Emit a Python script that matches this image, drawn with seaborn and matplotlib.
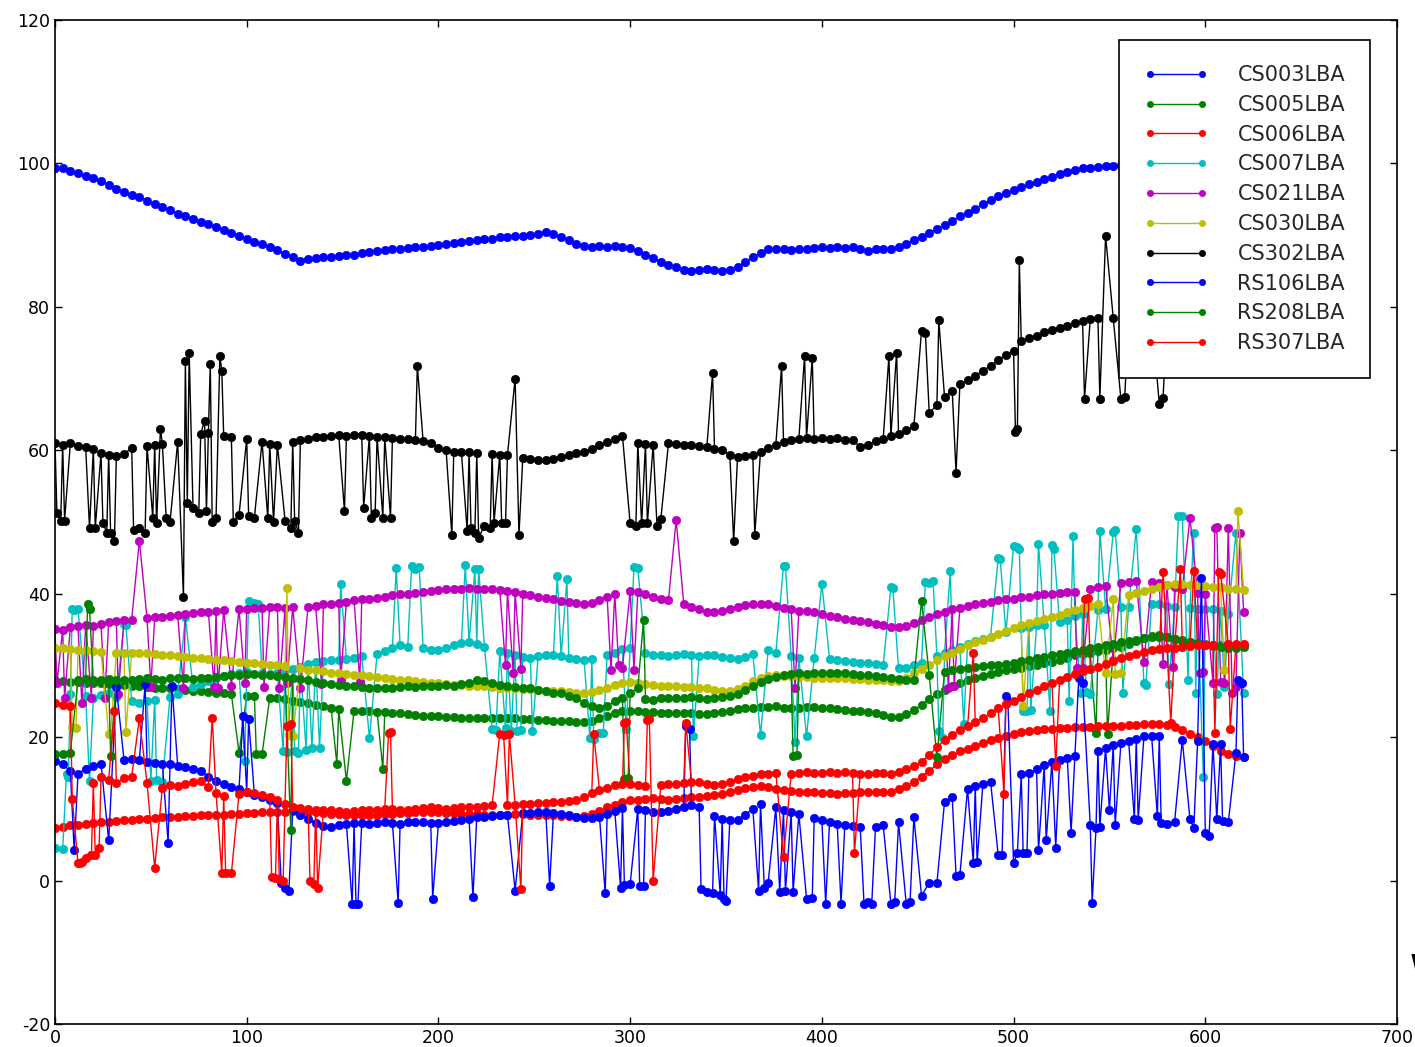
import numpy as np
import pandas as pd
import matplotlib
matplotlib.use('Agg')
import matplotlib.pyplot as plt
import seaborn as sns

STEP = 4

stations = ['CS003LBA', 'CS005LBA', 'CS006LBA', 'CS007LBA', 'CS021LBA',
            'CS030LBA', 'CS302LBA', 'RS106LBA', 'RS208LBA', 'RS307LBA']

cs003 = [
    99.3, 99.4, 99.0, 98.6, 98.3, 98.0, 97.6, 97.0, 96.5, 96.0,
    95.6, 95.3, 94.8, 94.3, 93.9, 93.5, 93.0, 92.6, 92.3, 91.9,
    91.5, 91.1, 90.7, 90.3, 89.9, 89.5, 89.1, 88.8, 88.4, 87.9,
    87.4, 86.9, 86.4, 86.7, 86.8, 86.9, 87.0, 87.1, 87.2, 87.3,
    87.5, 87.7, 87.8, 87.9, 88.0, 88.1, 88.2, 88.3, 88.4, 88.5,
    88.6, 88.7, 88.9, 89.1, 89.2, 89.3, 89.4, 89.5, 89.7, 89.8,
    89.9, 89.9, 90.0, 90.2, 90.4, 90.1, 89.7, 89.3, 88.8, 88.5,
    88.4, 88.5, 88.4, 88.5, 88.4, 88.2, 87.8, 87.3, 86.8, 86.3,
    85.9, 85.6, 85.2, 85.0, 85.2, 85.3, 85.1, 85.0, 85.2, 85.6,
    86.2, 86.9, 87.5, 88.0, 88.1, 88.0, 87.9, 88.0, 88.1, 88.2,
    88.3, 88.2, 88.3, 88.2, 88.3, 88.0, 87.8, 88.0, 88.1, 88.0,
    88.3, 88.8, 89.3, 89.8, 90.3, 90.9, 91.4, 92.0, 92.6, 93.1,
    93.7, 94.3, 94.9, 95.4, 95.9, 96.3, 96.7, 97.1, 97.4, 97.8,
    98.1, 98.5, 98.8, 99.1, 99.3, 99.4, 99.5, 99.6, 99.7, 99.8,
    99.9, 100.0, 100.1, 100.1, 100.2, 100.2, 100.3, 100.3, 100.4, 100.4,
    100.4, 100.5, 100.5, 100.5, 100.6, 100.6]
cs003_spikes = {}

cs005 = [
    27.9, 27.8, 27.7, 27.7, 27.6, 27.5, 27.5, 27.4, 27.3, 27.3,
    27.2, 27.1, 27.0, 26.9, 26.8, 26.8, 26.7, 26.6, 26.5, 26.4,
    26.3, 26.2, 26.1, 26.0, 25.9, 25.8, 25.7, 25.6, 25.5, 25.4,
    25.3, 25.1, 24.9, 24.7, 24.5, 24.3, 24.1, 23.9, 23.8, 23.7,
    23.6, 23.6, 23.5, 23.5, 23.4, 23.3, 23.2, 23.1, 23.0, 22.9,
    22.9, 22.8, 22.8, 22.7, 22.7, 22.7, 22.6, 22.6, 22.6, 22.6,
    22.6, 22.5, 22.5, 22.4, 22.4, 22.3, 22.3, 22.2, 22.1, 22.1,
    22.2, 22.6, 23.0, 23.4, 23.7, 23.7, 23.6, 23.5, 23.5, 23.4,
    23.4, 23.3, 23.3, 23.3, 23.2, 23.2, 23.3, 23.5, 23.7, 23.9,
    24.0, 24.1, 24.2, 24.2, 24.3, 24.1, 24.0, 24.1, 24.2, 24.2,
    24.1, 24.0, 23.9, 23.8, 23.7, 23.6, 23.5, 23.3, 23.1, 22.8,
    22.8, 23.2, 23.8, 24.5, 25.3, 26.0, 26.6, 27.1, 27.5, 27.9,
    28.2, 28.5, 28.8, 29.1, 29.3, 29.5, 29.7, 29.9, 30.1, 30.3,
    30.5, 30.8, 31.1, 31.4, 31.6, 31.8, 32.0, 32.2, 32.4, 32.6,
    33.0, 33.4, 33.8, 34.1, 34.2, 34.0, 33.7, 33.4, 33.2, 33.0,
    33.0, 32.9, 32.9, 32.8, 32.8, 32.8]
cs005_spikes = {96: 17.8, 105: 17.7, 108: 17.6, 147: 16.3, 152: 13.9,
                171: 15.6, 543: 20.6, 549: 20.5}

cs006 = [
    7.4, 7.5, 7.7, 7.8, 7.9, 8.0, 8.1, 8.2, 8.3, 8.4,
    8.5, 8.6, 8.6, 8.7, 8.8, 8.8, 8.9, 9.0, 9.0, 9.1,
    9.1, 9.2, 9.2, 9.3, 9.3, 9.4, 9.4, 9.5, 9.5, 9.6,
    9.6, 9.7, 9.7, 9.6, 9.5, 9.4, 9.3, 9.3, 9.2, 9.2,
    9.2, 9.1, 9.2, 9.3, 9.3, 9.4, 9.4, 9.5, 9.5, 9.6,
    9.5, 9.4, 9.4, 9.3, 9.3, 9.3, 9.2, 9.2, 9.2, 9.2,
    9.3, 9.3, 9.2, 9.2, 9.1, 9.1, 9.0, 9.0, 8.9, 9.0,
    9.3, 9.7, 10.2, 10.6, 10.9, 11.2, 11.3, 11.4, 11.5, 11.4,
    11.3, 11.4, 11.5, 11.6, 11.7, 11.8, 11.9, 12.1, 12.3, 12.6,
    12.9, 13.1, 13.2, 13.0, 12.8, 12.6, 12.5, 12.4, 12.3, 12.3,
    12.2, 12.2, 12.1, 12.2, 12.2, 12.3, 12.3, 12.3, 12.3, 12.4,
    12.8, 13.2, 13.8, 14.5, 15.3, 16.2, 16.9, 17.5, 18.0, 18.4,
    18.8, 19.2, 19.6, 19.9, 20.2, 20.5, 20.7, 20.9, 21.0, 21.1,
    21.2, 21.3, 21.3, 21.4, 21.4, 21.4, 21.5, 21.5, 21.6, 21.6,
    21.7, 21.7, 21.8, 21.8, 21.9, 21.7, 21.4, 21.0, 20.5, 20.0,
    19.4, 18.7, 18.1, 17.7, 17.4, 17.2]
cs006_spikes = {}

cs007 = [
    4.5, 4.4, 26.0, 26.2, 25.8, 25.5, 25.9, 26.1, 25.6, 25.8,
    25.0, 24.8, 25.0, 25.2, 25.3, 25.6, 26.0, 26.4, 27.0, 27.4,
    27.8, 28.2, 28.5, 28.8, 28.9, 29.1, 29.0, 29.0, 28.8, 28.9,
    29.2, 29.5, 29.8, 30.2, 30.5, 30.6, 30.7, 30.8, 30.9, 31.0,
    31.3, 31.5, 31.6, 32.0, 32.5, 32.8, 32.6, 32.5, 32.4, 32.2,
    32.1, 32.4, 32.8, 33.1, 33.2, 33.0, 32.6, 32.3, 32.0, 31.8,
    31.5, 31.2, 31.1, 31.3, 31.4, 31.5, 31.3, 31.1, 30.9, 30.7,
    30.9, 31.2, 31.5, 31.8, 32.3, 32.5, 32.2, 31.8, 31.5, 31.4,
    31.3, 31.5, 31.6, 31.4, 31.3, 31.5, 31.4, 31.2, 31.0, 30.9,
    31.2, 31.6, 32.0, 32.1, 31.8, 31.5, 31.3, 31.1, 31.0, 31.0,
    30.9, 30.9, 30.8, 30.6, 30.5, 30.4, 30.3, 30.2, 30.0, 29.8,
    29.6, 29.7, 30.0, 30.4, 30.8, 31.3, 31.8, 32.2, 32.6, 33.0,
    33.4, 33.7, 34.0, 34.3, 34.6, 34.9, 35.2, 35.4, 35.6, 35.7,
    35.8, 36.0, 36.4, 36.9, 37.2, 37.5, 37.7, 37.9, 38.0, 38.1,
    38.2, 38.4, 38.5, 38.6, 38.5, 38.3, 38.2, 38.1, 38.0, 37.9,
    37.9, 37.8, 37.6, 37.2, 36.8, 26.1]
cs007_spikes = {6: 14.9, 7: 14.5, 9: 37.9, 10: 37.7, 12: 37.8, 18: 13.9,
                36: 35.8, 37: 35.6, 50: 13.9, 53: 14.0, 56: 13.8, 68: 36.7,
                99: 16.7, 101: 39.0, 104: 38.7, 106: 38.6, 119: 18.1,
                121: 17.9, 125: 18.0, 127: 17.8, 131: 18.2, 134: 18.5,
                138: 18.5, 149: 41.4, 164: 19.9, 178: 43.6, 186: 43.9,
                188: 43.5, 190: 43.7, 214: 44.0, 219: 43.4, 221: 43.4,
                228: 21.2, 230: 21.0, 235: 21.3, 238: 20.9, 241: 20.9,
                243: 21.0, 249: 20.8, 262: 42.5, 267: 42.0, 279: 19.9,
                281: 19.8, 284: 20.6, 286: 20.6, 298: 21.2, 302: 43.7,
                304: 43.6, 333: 20.1, 368: 20.3, 380: 43.9, 381: 43.8,
                386: 19.3, 392: 20.1, 400: 41.4, 436: 40.9, 437: 40.8,
                454: 41.7, 456: 41.5, 458: 41.8, 461: 20.9, 463: 19.9,
                467: 43.2, 474: 21.9, 492: 45.0, 493: 44.9, 500: 46.7,
                502: 46.5, 503: 46.3, 505: 23.7, 507: 23.6, 509: 23.8,
                513: 46.9, 519: 23.7, 520: 46.8, 521: 46.3, 529: 25.1,
                531: 48.0, 535: 26.2, 538: 26.3, 540: 26.0, 545: 48.8,
                552: 48.6, 553: 48.9, 557: 26.2, 564: 49.0, 568: 27.5,
                569: 27.3, 581: 27.4, 586: 50.8, 588: 50.8, 591: 28.0,
                594: 48.5, 595: 26.2, 599: 14.4, 606: 26.0, 610: 27.0,
                616: 48.5}

cs021 = [
    35.1, 35.0, 35.3, 35.5, 35.6, 35.5, 35.8, 36.0, 36.2, 36.3,
    36.4, 36.5, 36.6, 36.7, 36.8, 36.9, 37.0, 37.2, 37.3, 37.4,
    37.5, 37.6, 37.7, 37.8, 37.9, 37.9, 38.0, 38.0, 38.1, 38.1,
    38.0, 38.1, 38.2, 38.2, 38.3, 38.5, 38.6, 38.7, 38.9, 39.1,
    39.2, 39.3, 39.4, 39.6, 39.8, 39.9, 40.0, 40.1, 40.2, 40.4,
    40.5, 40.6, 40.7, 40.7, 40.8, 40.7, 40.7, 40.6, 40.5, 40.4,
    40.2, 40.0, 39.8, 39.6, 39.4, 39.2, 39.0, 38.8, 38.7, 38.6,
    38.7, 39.1, 39.6, 40.0, 40.3, 40.4, 40.2, 39.9, 39.6, 39.3,
    39.1, 38.8, 38.5, 38.1, 37.8, 37.5, 37.4, 37.6, 37.9, 38.2,
    38.4, 38.6, 38.6, 38.5, 38.3, 38.0, 37.8, 37.6, 37.6, 37.5,
    37.2, 36.9, 36.7, 36.5, 36.3, 36.2, 36.0, 35.8, 35.6, 35.4,
    35.3, 35.5, 35.9, 36.3, 36.8, 37.2, 37.5, 37.8, 38.0, 38.3,
    38.5, 38.7, 38.9, 39.1, 39.2, 39.3, 39.5, 39.6, 39.8, 39.9,
    40.0, 40.1, 40.2, 40.3, 40.5, 40.6, 40.9, 41.1, 41.3, 41.5,
    41.6, 41.8, 41.8, 41.7, 41.5, 41.2, 40.9, 40.6, 40.3, 40.1,
    39.9, 39.7, 39.6, 39.5, 39.3, 37.4]
cs021_spikes = {1: 27.5, 5: 25.5, 14: 24.7, 19: 25.5, 26: 25.5, 33: 26.0,
                44: 47.4, 50: 27.0, 67: 26.8, 83: 27.0, 85: 26.8, 92: 27.2,
                99: 27.5, 109: 27.0, 117: 26.8, 121: 27.5, 128: 26.8,
                139: 27.4, 149: 27.9, 159: 27.7, 235: 30.0, 239: 29.0,
                243: 29.5, 290: 29.3, 294: 30.0, 296: 29.7, 302: 29.4,
                324: 50.3, 386: 26.9, 466: 26.9, 469: 27.2, 533: 29.6,
                536: 29.6, 552: 30.7, 568: 30.5, 578: 30.2, 583: 29.8,
                592: 50.6, 597: 29.0, 599: 29.1, 604: 27.6, 605: 49.2,
                606: 49.3, 608: 27.7, 610: 27.5, 612: 49.2, 614: 26.2,
                616: 27.0, 618: 48.4}

cs030 = [
    32.5, 32.4, 32.3, 32.2, 32.1, 32.0, 31.9, 31.9, 31.8, 31.8,
    31.8, 31.7, 31.7, 31.6, 31.5, 31.4, 31.3, 31.2, 31.1, 31.0,
    30.9, 30.8, 30.7, 30.6, 30.5, 30.4, 30.3, 30.2, 30.1, 30.0,
    29.9, 29.8, 29.6, 29.4, 29.3, 29.2, 29.0, 28.9, 28.8, 28.7,
    28.6, 28.5, 28.4, 28.3, 28.1, 28.0, 27.9, 27.8, 27.7, 27.6,
    27.5, 27.4, 27.3, 27.3, 27.2, 27.2, 27.1, 27.0, 26.9, 26.8,
    26.8, 26.7, 26.7, 26.6, 26.5, 26.5, 26.4, 26.3, 26.2, 26.2,
    26.3, 26.6, 26.9, 27.3, 27.6, 27.7, 27.6, 27.4, 27.3, 27.2,
    27.2, 27.1, 27.0, 27.0, 26.9, 26.8, 26.6, 26.5, 26.5, 26.7,
    27.2, 27.8, 28.3, 28.5, 28.6, 28.5, 28.5, 28.4, 28.4, 28.3,
    28.3, 28.3, 28.2, 28.2, 28.1, 28.1, 28.0, 28.0, 27.9, 27.8,
    27.8, 28.3, 28.9, 29.5, 30.1, 30.7, 31.3, 31.8, 32.3, 32.8,
    33.2, 33.6, 34.0, 34.4, 34.8, 35.2, 35.6, 35.9, 36.2, 36.5,
    36.8, 37.1, 37.4, 37.7, 38.0, 38.3, 38.6, 38.9, 39.2, 39.5,
    39.8, 40.1, 40.4, 40.7, 41.0, 41.2, 41.3, 41.3, 41.2, 41.2,
    41.1, 41.0, 40.9, 40.7, 40.6, 40.5]
cs030_spikes = {9: 21.4, 11: 21.3, 28: 20.5, 29: 20.6, 37: 20.7, 121: 40.8,
                122: 20.3, 124: 20.2, 505: 24.4, 548: 28.9, 553: 28.8,
                556: 29.0, 610: 29.3, 617: 51.6}

cs302 = [
    61.0, 60.8, 61.0, 60.6, 60.4, 60.2, 59.6, 59.4, 59.2, 59.5,
    60.3, 60.4, 60.6, 60.8, 60.9, 60.8, 61.2, 61.5, 62.0, 62.3,
    62.4, 62.2, 62.0, 61.8, 61.9, 61.6, 61.4, 61.2, 60.9, 60.8,
    61.0, 61.2, 61.5, 61.6, 61.8, 61.9, 62.0, 62.1, 62.0, 62.2,
    62.1, 62.0, 61.9, 61.8, 61.7, 61.6, 61.6, 61.5, 61.3, 61.0,
    60.3, 60.0, 59.8, 59.7, 59.8, 59.6, 59.6, 59.5, 59.4, 59.3,
    59.1, 58.9, 58.8, 58.7, 58.6, 58.8, 59.0, 59.3, 59.6, 59.8,
    60.2, 60.7, 61.2, 61.6, 62.0, 61.5, 61.0, 60.9, 60.8, 60.9,
    61.0, 60.9, 60.8, 60.7, 60.6, 60.4, 60.2, 60.0, 59.4, 59.0,
    59.2, 59.4, 59.8, 60.3, 60.8, 61.2, 61.5, 61.6, 61.7, 61.6,
    61.7, 61.6, 61.7, 61.5, 61.4, 60.5, 60.8, 61.3, 61.6, 62.0,
    62.3, 62.8, 63.4, 64.2, 65.2, 66.3, 67.4, 68.3, 69.2, 69.8,
    70.4, 71.1, 71.8, 72.6, 73.3, 73.9, 75.2, 75.6, 76.0, 76.5,
    76.8, 77.1, 77.4, 77.8, 78.0, 78.3, 78.4, 78.5, 78.4, 78.5,
    78.6, 78.7, 78.8, 78.9, 79.0, 79.1, 79.2, 79.3, 79.3, 79.4,
    79.4, 79.5, 79.5, 79.6, 79.6, 79.7]
cs302_spikes = {1: 51.3, 3: 50.2, 5: 50.2, 18: 49.2, 21: 49.2, 25: 49.9,
                27: 48.5, 29: 48.5, 31: 47.4, 41: 48.9, 44: 49.2, 47: 48.5,
                51: 50.6, 53: 49.8, 55: 63.0, 58: 50.5, 60: 50.0, 67: 39.5,
                68: 72.5, 69: 52.6, 70: 73.5, 72: 51.9, 75: 51.3, 78: 64.1,
                79: 51.5, 81: 72.1, 82: 50.0, 84: 50.6, 86: 73.2, 87: 71.1,
                93: 50.0, 96: 51.0, 101: 50.9, 104: 50.6, 111: 50.5,
                114: 50.0, 120: 50.2, 123: 49.2, 125: 50.2, 127: 48.5,
                151: 51.5, 161: 52.0, 165: 50.6, 167: 51.3, 171: 50.6,
                175: 50.6, 189: 71.8, 207: 48.2, 215: 48.7, 217: 49.2,
                219: 48.5, 221: 47.8, 224: 49.5, 227: 49.2, 229: 49.9,
                233: 49.8, 235: 49.8, 240: 70.0, 242: 48.2, 300: 49.8,
                303: 49.5, 306: 49.8, 309: 49.8, 314: 49.5, 316: 50.4,
                343: 70.8, 354: 47.3, 365: 48.2, 379: 71.7, 391: 73.2,
                395: 72.9, 435: 73.2, 439: 73.6, 452: 76.7, 454: 76.4,
                461: 78.1, 470: 56.9, 501: 62.5, 502: 63.0, 503: 86.5,
                537: 67.2, 545: 67.2, 548: 89.9, 556: 67.1, 558: 67.5,
                576: 66.5, 578: 67.3}

rs106 = [
    16.7, 16.2, 15.3, 14.9, 15.6, 16.0, 16.3, 16.5, 16.6, 16.8,
    17.0, 16.8, 16.6, 16.4, 16.3, 16.2, 16.0, 15.9, 15.6, 15.3,
    14.5, 13.9, 13.5, 13.1, 12.7, 12.3, 12.0, 11.6, 11.2, 10.8,
    10.3, 9.8, 9.2, 8.6, 8.0, 7.6, 7.5, 7.7, 7.9, 8.0,
    8.0, 7.9, 8.0, 8.1, 8.0, 7.9, 8.1, 8.2, 8.1, 8.0,
    8.0, 8.1, 8.3, 8.5, 8.6, 8.8, 8.9, 9.0, 9.1, 9.2,
    9.3, 9.4, 9.4, 9.5, 9.5, 9.4, 9.3, 9.1, 8.9, 8.7,
    8.7, 8.9, 9.3, 9.7, 10.1, 10.2, 10.0, 9.8, 9.6, 9.6,
    9.7, 10.0, 10.3, 10.5, 10.2, 9.6, 9.0, 8.6, 8.4, 8.5,
    9.2, 10.0, 10.7, 10.6, 10.2, 9.8, 9.5, 9.3, 9.0, 8.7,
    8.4, 8.1, 7.9, 7.8, 7.6, 7.5, 7.4, 7.5, 7.7, 7.9,
    8.1, 8.4, 8.8, 9.2, 9.7, 10.3, 11.0, 11.6, 12.3, 12.8,
    13.2, 13.5, 13.8, 14.1, 14.4, 14.6, 14.8, 15.0, 15.5, 16.1,
    16.5, 16.8, 17.1, 17.4, 17.6, 17.8, 18.1, 18.5, 18.9, 19.2,
    19.5, 19.8, 20.1, 20.2, 20.1, 19.9, 19.7, 19.6, 19.5, 19.4,
    19.2, 19.1, 19.0, 18.5, 17.8, 17.2]
rs106_spikes = {10: 4.2, 28: 5.6, 32: 27.0, 47: 27.4, 59: 5.3, 61: 27.2,
                98: 23.0, 101: 22.5, 118: -0.4, 120: -1.0, 122: -1.4,
                155: -3.2, 157: -3.3, 158: -3.2, 179: -3.1, 197: -2.5,
                218: -2.3, 240: -1.4, 258: -0.7, 287: -1.8, 295: -1.0,
                297: -0.6, 300: -0.5, 305: -0.7, 307: -0.8, 329: 21.6,
                331: 21.2, 337: -1.2, 340: -1.6, 343: -1.8, 347: -2.0,
                349: -2.6, 350: -2.8, 367: -1.4, 370: -1.0, 372: -0.3,
                378: -1.6, 381: -1.5, 385: -1.6, 392: -2.5, 395: -2.4,
                402: -3.2, 410: -3.2, 422: -3.3, 424: -3.0, 426: -3.3,
                436: -3.2, 438: -3.0, 444: -3.2, 446: -3.0, 452: -2.1,
                456: -0.3, 460: -0.4, 470: 0.7, 472: 0.8, 479: 2.5,
                481: 2.6, 492: 3.5, 494: 3.6, 496: 25.8, 497: 25.1,
                500: 2.4, 502: 3.9, 505: 3.8, 507: 3.9, 513: 4.2, 517: 5.6,
                522: 4.6, 530: 6.7, 534: 28.3, 536: 27.6, 540: 7.7,
                541: -3.1, 543: 7.3, 545: 7.5, 550: 9.8, 553: 7.7, 563: 8.6,
                565: 8.4, 575: 9.0, 577: 8.0, 580: 7.9, 584: 8.2, 592: 8.6,
                594: 7.3, 598: 42.2, 600: 6.7, 602: 6.2, 606: 8.6, 609: 8.3,
                612: 8.1, 617: 28.0, 619: 27.6}

rs208 = [
    17.7, 17.6, 17.8, 28.0, 28.1, 27.9, 28.0, 28.1, 28.0, 27.9,
    28.0, 28.1, 28.2, 28.1, 28.0, 28.2, 28.3, 28.2, 28.1, 28.3,
    28.3, 28.4, 28.5, 28.6, 28.7, 28.8, 28.8, 28.7, 28.6, 28.5,
    28.4, 28.3, 28.1, 27.9, 27.7, 27.5, 27.4, 27.3, 27.2, 27.1,
    27.0, 26.9, 26.8, 26.8, 26.9, 27.0, 27.1, 27.0, 27.1, 27.2,
    27.2, 27.3, 27.2, 27.4, 27.6, 27.9, 27.8, 27.5, 27.3, 27.1,
    27.0, 26.9, 26.8, 26.6, 26.4, 26.2, 26.1, 25.8, 25.4, 24.8,
    24.3, 24.0, 24.4, 25.0, 25.5, 26.2, 26.8, 25.3, 25.2, 25.4,
    25.5, 25.4, 25.5, 25.6, 25.4, 25.3, 25.5, 25.6, 25.7, 26.0,
    26.6, 27.2, 27.7, 28.1, 28.4, 28.6, 28.8, 28.9, 28.8, 28.9,
    28.9, 29.0, 28.9, 28.9, 28.8, 28.7, 28.6, 28.5, 28.4, 28.3,
    28.1, 27.9, 28.0, 28.3, 28.6, 28.9, 29.1, 29.3, 29.5, 29.7,
    29.8, 29.9, 30.0, 30.1, 30.2, 30.4, 30.6, 30.8, 31.0, 31.2,
    31.4, 31.6, 31.8, 32.0, 32.2, 32.4, 32.6, 32.8, 33.0, 33.2,
    33.4, 33.6, 33.8, 33.9, 34.0, 33.9, 33.7, 33.5, 33.3, 33.1,
    32.9, 32.7, 32.6, 32.5, 32.5, 32.6]
rs208_spikes = {17: 38.6, 18: 37.8, 29: 17.4, 123: 7.0, 297: 14.2,
                299: 14.3, 307: 36.4, 385: 17.4, 387: 17.5, 452: 39.0,
                460: 17.2}

rs307 = [
    24.7, 24.5, 24.3, 12.6, 12.9, 13.6, 14.4, 14.0, 13.6, 14.3,
    14.5, 14.2, 13.6, 13.0, 12.9, 13.3, 13.2, 13.5, 13.7, 13.9,
    13.0, 12.2, 11.8, 11.9, 12.1, 12.3, 12.2, 11.9, 11.6, 11.2,
    10.7, 10.3, 10.1, 10.0, 9.9, 9.8, 9.8, 9.7, 9.6, 9.7,
    9.8, 9.9, 9.9, 10.0, 10.0, 9.9, 9.8, 10.0, 10.1, 10.2,
    10.1, 10.0, 10.1, 10.2, 10.3, 10.3, 10.4, 10.5, 10.5, 10.6,
    10.6, 10.7, 10.7, 10.8, 10.8, 10.9, 11.0, 11.1, 11.2, 11.6,
    12.2, 12.6, 12.9, 13.3, 13.5, 13.4, 13.3, 13.2, 13.2, 13.3,
    13.4, 13.5, 13.6, 13.8, 13.7, 13.5, 13.3, 13.5, 13.8, 14.1,
    14.4, 14.6, 14.8, 14.9, 15.0, 15.0, 14.9, 15.0, 15.1, 15.0,
    15.0, 15.1, 15.0, 15.1, 15.0, 14.9, 14.9, 15.0, 15.0, 14.9,
    15.2, 15.6, 16.0, 16.6, 17.5, 18.6, 19.6, 20.3, 21.0, 21.5,
    22.1, 22.7, 23.3, 24.0, 24.6, 25.1, 25.6, 26.1, 26.6, 27.1,
    27.6, 28.0, 28.4, 28.8, 29.2, 29.5, 29.8, 30.2, 30.6, 31.0,
    31.3, 31.6, 31.9, 32.1, 32.3, 32.4, 32.5, 32.6, 32.7, 32.8,
    32.8, 32.9, 32.9, 33.0, 33.0, 33.0]
rs307_spikes = {9: 11.4, 12: 2.4, 13: 2.5, 14: 2.6, 16: 3.2, 19: 3.5,
                21: 3.6, 23: 4.6, 31: 23.7, 44: 22.6, 52: 1.8, 82: 22.7,
                87: 1.1, 89: 1.0, 92: 1.0, 113: 0.5, 115: 0.3, 117: 0.2,
                119: 0.0, 121: 21.6, 123: 21.8, 133: 0.0, 135: -0.5,
                137: -1.0, 174: 20.6, 175: 20.7, 232: 20.5, 234: 20.3,
                237: 20.4, 243: -1.2, 281: 20.5, 297: 22.0, 298: 22.1,
                309: 22.4, 310: 22.5, 312: 0.0, 329: 22.0, 380: 3.3,
                417: 3.8, 479: 31.8, 495: 12.1, 522: 16.0, 537: 39.3,
                539: 39.4, 578: 43.0, 582: 22.0, 587: 43.5, 594: 43.2,
                605: 20.6, 607: 43.0, 608: 42.8, 613: 21.2}

baselines = [cs003, cs005, cs006, cs007, cs021, cs030, cs302, rs106, rs208, rs307]
spikes = [cs003_spikes, cs005_spikes, cs006_spikes, cs007_spikes, cs021_spikes,
          cs030_spikes, cs302_spikes, rs106_spikes, rs208_spikes, rs307_spikes]


def build(base, extra):
    pts = {i * STEP: v for i, v in enumerate(base)}
    pts.update(extra)  # single-sample outliers
    xs = sorted(pts)
    return pd.DataFrame({'sample': xs, 'value': [pts[k] for k in xs]})


sns.set_style('ticks')
plt.rcParams['font.family'] = ['DejaVu Sans']
plt.rcParams['axes.unicode_minus'] = False

colors = ['b', 'g', 'r', 'c', 'm', 'y', 'k', 'b', 'g', 'r']

fig = plt.figure(figsize=(14.15, 10.47), dpi=100)
ax = fig.add_axes([55 / 1415, 23 / 1047, 1342 / 1415, 1004 / 1047])

for name, base, extra, c in zip(stations, baselines, spikes, colors):
    df = build(base, extra)
    sns.lineplot(data=df, x='sample', y='value', ax=ax, color=c, label=name,
                 marker='o', markersize=6, markeredgecolor=c, markeredgewidth=0.5,
                 linewidth=1.0, estimator=None, sort=True)

ax.set_xlim(0, 700)
ax.set_ylim(-20, 120)
ax.set_xticks(np.arange(0, 701, 100))
ax.set_yticks(np.arange(-20, 121, 20))
ax.set_xlabel('')
ax.set_ylabel('')
ax.tick_params(direction='in', top=True, right=True, length=5, width=1,
               labelsize=12.5, colors='black')
for s in ax.spines.values():
    s.set_visible(True)
    s.set_color('black')
    s.set_linewidth(1.2)

leg = ax.legend(loc='upper right', bbox_to_anchor=(0.98, 0.98), borderaxespad=0,
                numpoints=2, fontsize=15, handlelength=3.1, handletextpad=1.4,
                labelspacing=0.47, borderpad=1.2, fancybox=False, framealpha=1,
                edgecolor='black')
leg.get_frame().set_linewidth(1.2)
for h in leg.legend_handles:
    h.set_markersize(4.5)

# clipped character at the right edge of the original image
fig.text(1410 / 1415, 62 / 1047, 'W', fontsize=30, color='black', ha='left', va='baseline')

fig.savefig('out.png', dpi=100)
